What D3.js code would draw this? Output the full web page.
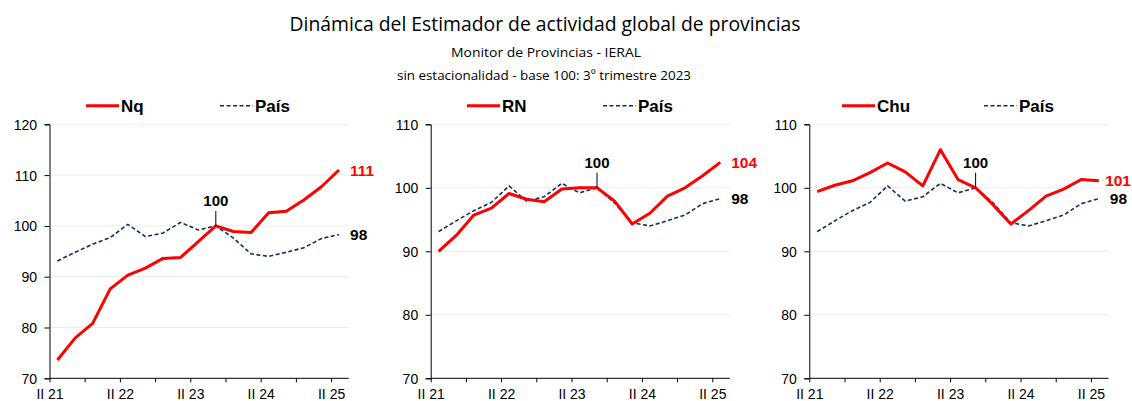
<!DOCTYPE html>
<html><head><meta charset="utf-8">
<script src="https://cdn.jsdelivr.net/npm/d3@7"></script>
<style>
body{margin:0;background:#fff;}
svg{display:block;}
</style></head>
<body>
<svg id="c" width="1132" height="401"></svg>
<script>
// ---- data ----
const quarters = ["II 21","III 21","IV 21","I 22","II 22","III 22","IV 22","I 23","II 23","III 23","IV 23","I 24","II 24","III 24","IV 24","I 25","II 25"];
const xTickLabels = ["II 21","II 22","II 23","II 24","II 25"];
const pais = [93.1,94.8,96.4,97.7,100.3,97.9,98.6,100.7,99.2,100,97.6,94.5,94.0,94.8,95.7,97.5,98.3];
const nq   = [73.6,77.9,80.8,87.6,90.3,91.7,93.6,93.8,96.9,100,98.9,98.7,102.6,102.9,105.1,107.7,111.0];
const rn   = [90.0,92.5,95.7,96.8,99.1,98.2,97.8,99.8,100.0,100,97.9,94.3,96.0,98.7,100.0,101.9,104.0];
const chu  = [99.4,100.4,101.1,102.4,103.9,102.5,100.3,106.0,101.3,100,97.3,94.3,96.4,98.7,99.8,101.3,101.1];
const provNames = ["Nq","RN","Chu"];
const paisName = "País";
const yTicksNq = [70,80,90,100,110,120];
const yTicksOther = [70,80,90,100,110];
const baseIndex = 9; // III 23
const title = "Dinámica del Estimador de actividad global de provincias";
const subtitle1 = "Monitor de Provincias - IERAL";
const subtitle2 = "sin estacionalidad - base 100: 3º trimestre 2023";

// ---- layout ----
const svg = d3.select("#c");
const RED = "#ff0000", NAVY = "#0e2d62";
const FONT = "Liberation Sans, Arial";
const panels = [
  {name: provNames[0], vals: nq,  yt: yTicksNq,    left: 49.5,  legLine: 86,  legPais: 220},
  {name: provNames[1], vals: rn,  yt: yTicksOther, left: 430.7, legLine: 467, legPais: 603},
  {name: provNames[2], vals: chu, yt: yTicksOther, left: 809.3, legLine: 842, legPais: 984}
];
const plotTop = 124.3, plotBottom = 378.3, tickOff = 0.45, qW = 17.6;

svg.append("text").attr("x",545).attr("y",31).attr("text-anchor","middle")
  .attr("font-family","Open Sans").attr("font-size",20).attr("fill","#000")
  .attr("textLength",511).attr("lengthAdjust","spacingAndGlyphs").text(title);
svg.append("text").attr("x",546).attr("y",57).attr("text-anchor","middle")
  .attr("font-family","Open Sans").attr("font-size",13.5).attr("fill","#000")
  .attr("textLength",190).attr("lengthAdjust","spacingAndGlyphs").text(subtitle1);
svg.append("text").attr("x",544).attr("y",80).attr("text-anchor","middle")
  .attr("font-family","Open Sans").attr("font-size",13.5).attr("fill","#000")
  .attr("textLength",294).attr("lengthAdjust","spacingAndGlyphs").text(subtitle2);

panels.forEach(p => {
  const g = svg.append("g");
  const x = d3.scaleLinear().domain([-tickOff, quarters.length - tickOff]).range([p.left, p.left + qW*quarters.length]);
  const y = d3.scaleLinear().domain([d3.min(p.yt), d3.max(p.yt)]).range([plotBottom, plotTop]);
  const right = x.range()[1];

  // gridlines
  g.selectAll(".grid").data(p.yt.slice(1)).join("line")
    .attr("x1", p.left).attr("x2", right).attr("y1", d=>y(d)).attr("y2", d=>y(d))
    .attr("stroke","#ebebeb").attr("stroke-width",1);

  // y axis
  const ya = d3.axisLeft(y).tickValues(p.yt).tickSize(5).tickFormat(d3.format("d"));
  const yg = g.append("g").attr("transform",`translate(${p.left},0)`).call(ya);
  yg.select(".domain").attr("stroke","#000");
  yg.selectAll(".tick line").attr("stroke","#000");
  yg.selectAll(".tick text").attr("font-family",FONT).attr("font-size",14)
    .attr("fill","#000").attr("x",-12.5).attr("dy","0.36em");

  // x axis
  const tickIdx = d3.range(0, quarters.length, 2).map(i => i - tickOff);
  const xa = d3.axisBottom(x).tickValues(tickIdx).tickSize(4).tickSizeOuter(0)
    .tickFormat(d => { const i = Math.round(d + tickOff); return xTickLabels.includes(quarters[i]) ? quarters[i] : ""; });
  const xg = g.append("g").attr("transform",`translate(0,${plotBottom})`).call(xa);
  xg.select(".domain").attr("stroke","#000").attr("d", `M${p.left},0H${right}`);
  xg.selectAll(".tick line").attr("stroke","#000");
  xg.selectAll(".tick text").attr("font-family",FONT).attr("font-size",14)
    .attr("fill","#000").attr("y",21).attr("dy",0);

  const line = d3.line().x((d,i)=>x(i)).y(d=>y(d));
  g.append("path").datum(pais).attr("d",line).attr("fill","none")
    .attr("stroke",NAVY).attr("stroke-width",1.6).attr("stroke-dasharray","4,2.5");
  g.append("path").datum(p.vals).attr("d",line).attr("fill","none")
    .attr("stroke",RED).attr("stroke-width",3).attr("stroke-linejoin","round");

  // end labels
  const li = quarters.length - 1;
  const endLabel = (v, col) => {
    const t = g.append("text").attr("x", x(li)+11).attr("y", y(v)).attr("dy","0.36em")
      .attr("font-family",FONT).attr("font-weight","bold").attr("font-size",15.5)
      .attr("fill",col).text(d3.format(".0f")(v));
    const w = t.node().getComputedTextLength();
    if (x(li)+11+w > 1131) t.attr("x", 1131 - w);
  };
  endLabel(p.vals[li], RED);
  endLabel(pais[li], "#000");

  // base annotation
  const bx = x(baseIndex), by = y(p.vals[baseIndex]);
  g.append("line").attr("x1",bx).attr("x2",bx).attr("y1",by-15).attr("y2",by)
    .attr("stroke","#000").attr("stroke-width",1);
  g.append("text").attr("x",bx).attr("y",by-20).attr("text-anchor","middle")
    .attr("font-family",FONT).attr("font-weight","bold").attr("font-size",15)
    .attr("fill","#000").text(d3.format("d")(p.vals[baseIndex]));

  // legend
  const ly = 105.7;
  g.append("line").attr("x1",p.legLine).attr("x2",p.legLine+33).attr("y1",ly).attr("y2",ly)
    .attr("stroke",RED).attr("stroke-width",3);
  g.append("text").attr("x",p.legLine+35).attr("y",ly).attr("dy","0.36em")
    .attr("font-family",FONT).attr("font-weight","bold").attr("font-size",17)
    .attr("fill","#000").text(p.name);
  g.append("line").attr("x1",p.legPais).attr("x2",p.legPais+33).attr("y1",ly).attr("y2",ly)
    .attr("stroke",NAVY).attr("stroke-width",1.6).attr("stroke-dasharray","4,2.5");
  g.append("text").attr("x",p.legPais+35).attr("y",ly).attr("dy","0.36em")
    .attr("font-family",FONT).attr("font-weight","bold").attr("font-size",17)
    .attr("fill","#000").text(paisName);
});
</script>
</body></html>
